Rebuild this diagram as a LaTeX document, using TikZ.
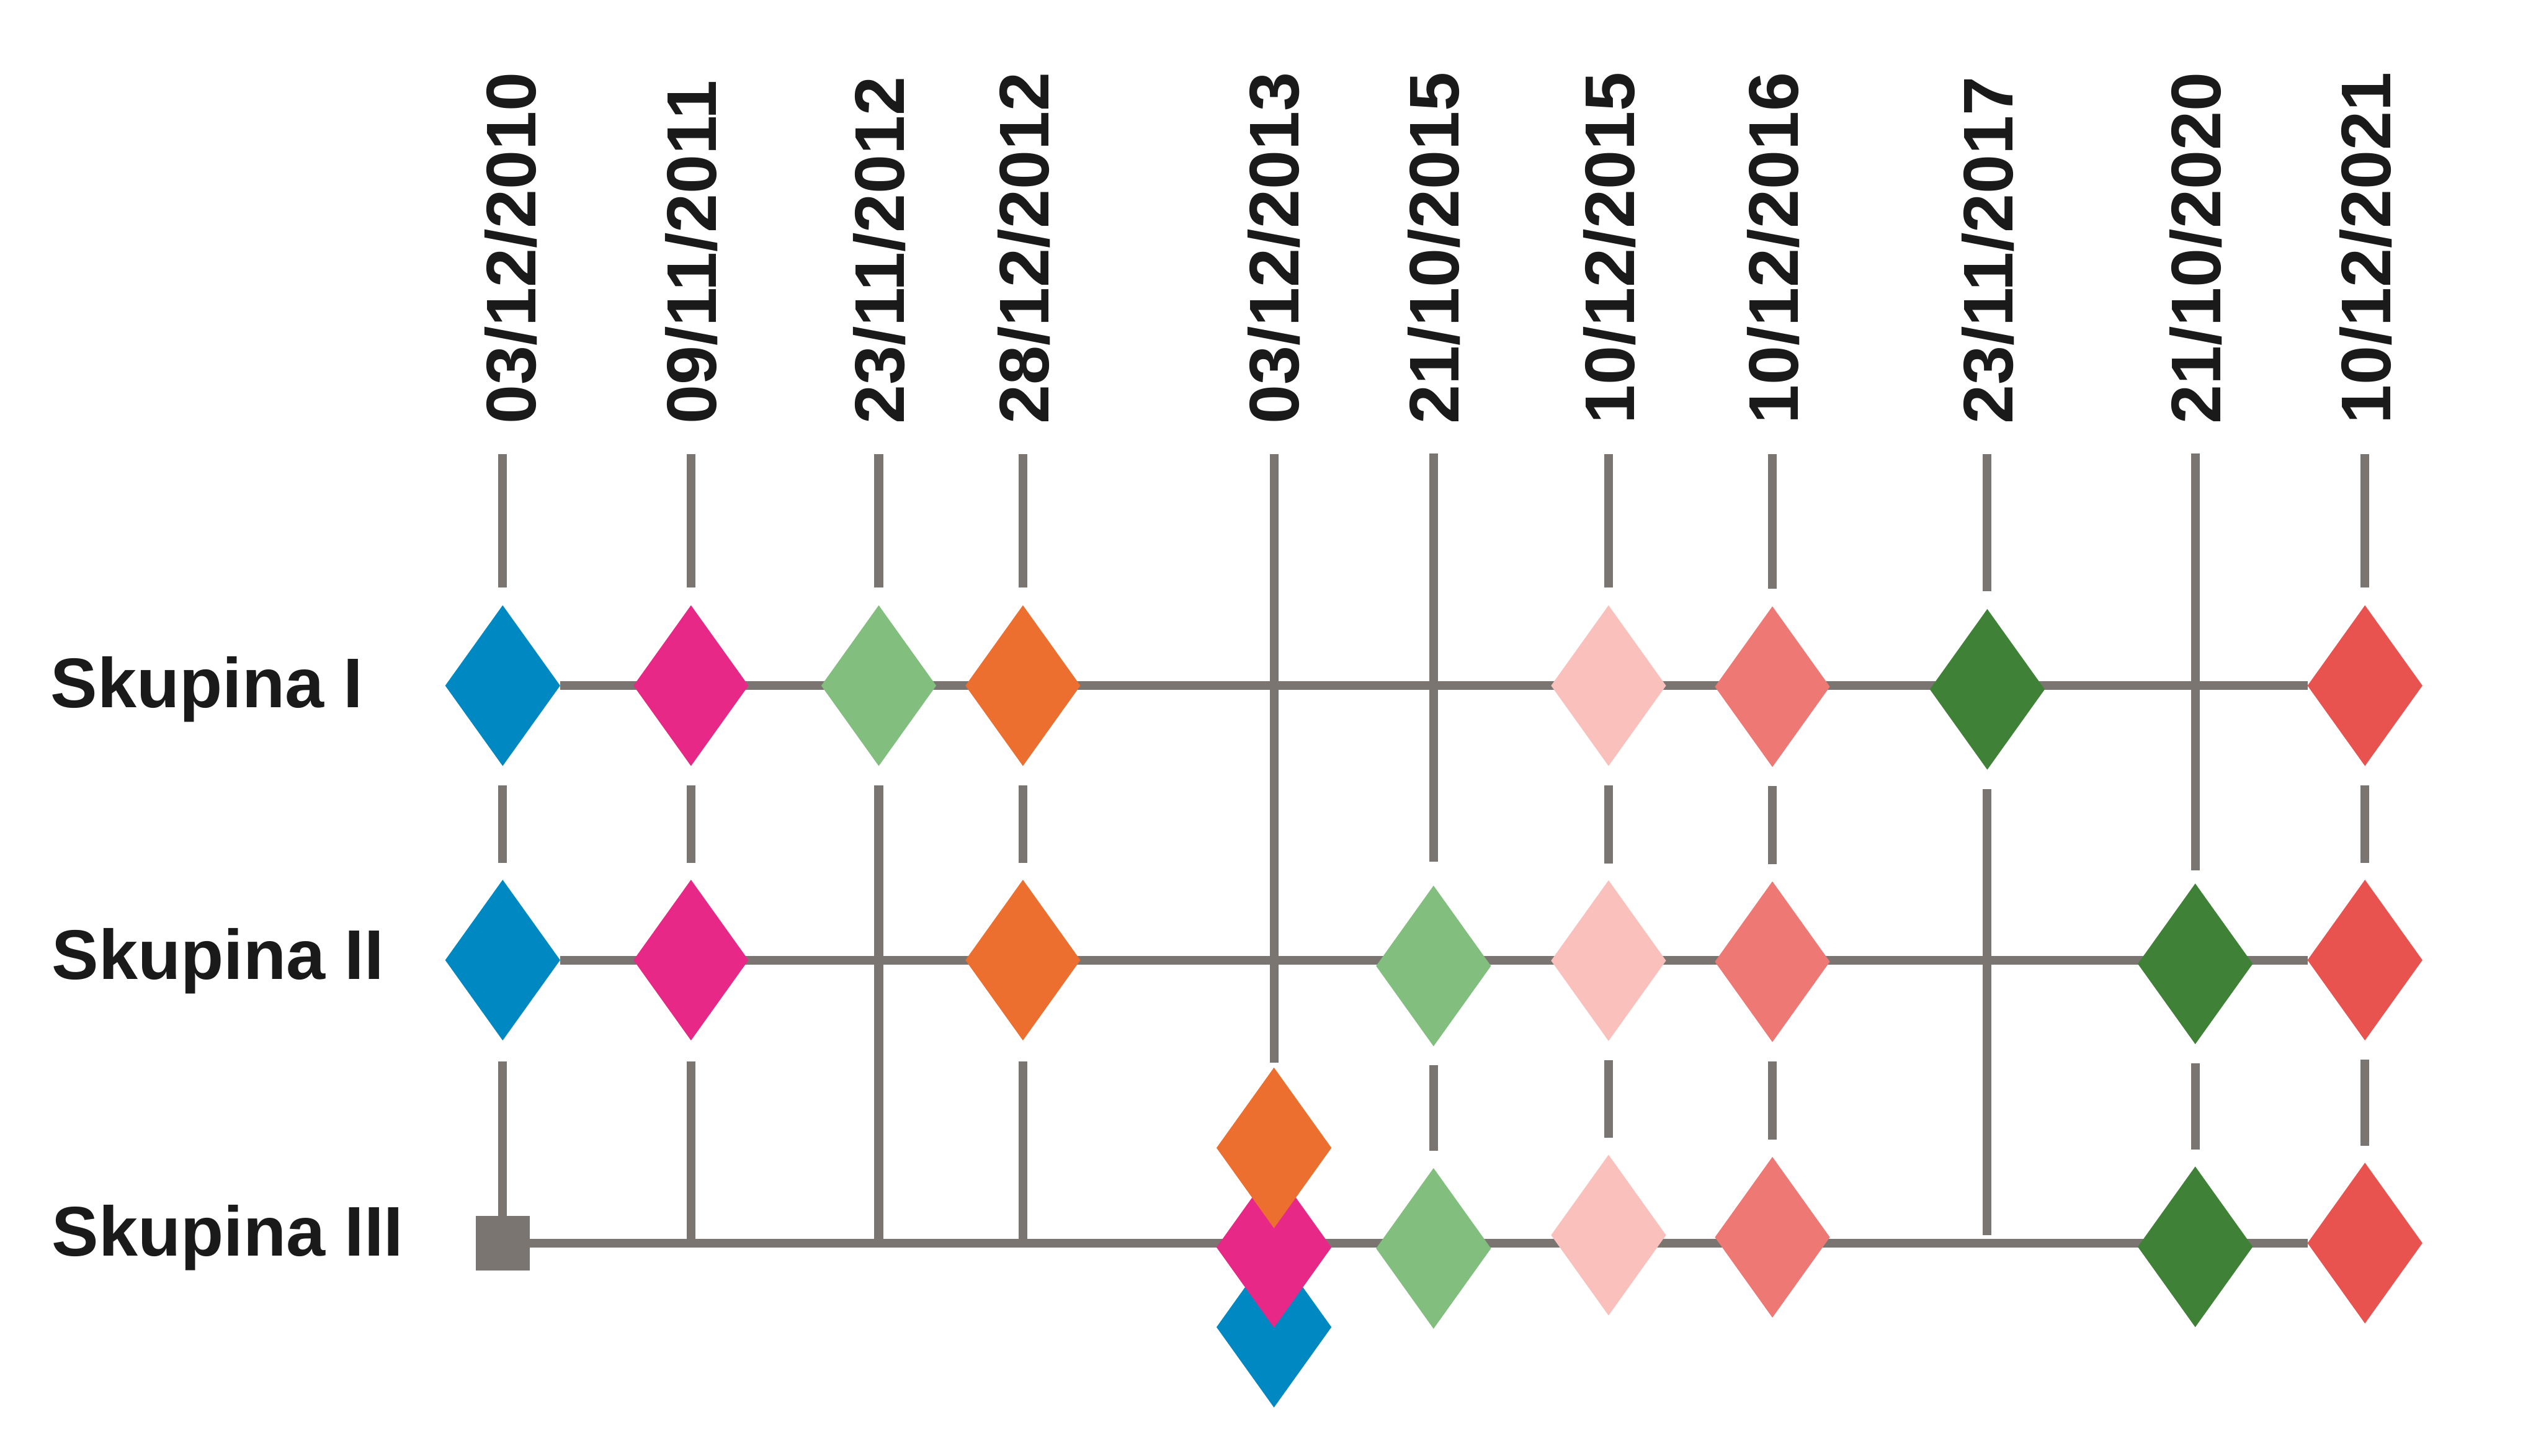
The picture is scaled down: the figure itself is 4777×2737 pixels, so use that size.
\documentclass[tikz,border=0pt]{standalone}
\usepackage{fontspec}
\setmainfont{Liberation Sans}
\usetikzlibrary{shapes.geometric,backgrounds}
\definecolor{linegray}{RGB}{122,117,112}
\definecolor{textblack}{RGB}{26,26,26}
\definecolor{dblue}{RGB}{0,136,194}
\definecolor{dpink}{RGB}{231,40,134}
\definecolor{dlightgreen}{RGB}{130,191,127}
\definecolor{dorange}{RGB}{236,111,48}
\definecolor{dlightpink}{RGB}{249,192,188}
\definecolor{dsalmon}{RGB}{238,120,116}
\definecolor{ddarkgreen}{RGB}{63,130,55}
\definecolor{dred}{RGB}{232,83,79}

\begin{document}
\begin{tikzpicture}[x=0.05mm, y=-0.05mm, font=\bfseries\fontsize{18.8}{22}\selectfont,
    dia/.style={diamond, minimum width=10.8mm, minimum height=15.1mm, inner sep=0pt, outer sep=0pt, fill=#1},
    startbox/.style={rectangle, minimum size=5.1mm, inner sep=0pt, outer sep=0pt, fill=linegray},
    datelbl/.style={rotate=90, anchor=base west, inner sep=0pt, text=textblack},
    grplbl/.style={anchor=base west, inner sep=0pt, text=textblack},
    tickline/.style={draw=linegray, line width=0.82mm},
    gapped/.style={shorten <=1.8mm, shorten >=1.6mm}]
        \useasboundingbox (0,0) rectangle (4777,2737);

        % dates
        \node[datelbl] (l1) at (1007,799) {03/12/2010};
        \node[datelbl] (l2) at (1347,799) {09/11/2011};
        \node[datelbl] (l3) at (1700,799) {23/11/2012};
        \node[datelbl] (l4) at (1971,799) {28/12/2012};
        \node[datelbl] (l5) at (2442,799) {03/12/2013};
        \node[datelbl] (l6) at (2743,799) {21/10/2015};
        \node[datelbl] (l7) at (3072,799) {10/12/2015};
        \node[datelbl] (l8) at (3380,799) {10/12/2016};
        \node[datelbl] (l9) at (3784,799) {23/11/2017};
        \node[datelbl] (l10) at (4175,799) {21/10/2020};
        \node[datelbl] (l11) at (4494,799) {10/12/2021};

        % groups
        \node[grplbl] (g1) at (94,1330) {Skupina I};
        \node[grplbl] (g2) at (96,1841) {Skupina II};
        \node[grplbl] (g3) at (96,2361) {Skupina III};

        % Skupina I
        \node[dia=dblue] (i1) at (945,1289) {};
        \node[dia=dpink] (i2) at (1299,1289) {};
        \node[dia=dlightgreen] (i3) at (1652,1289) {};
        \node[dia=dorange] (i4) at (1923,1289) {};
        \node[dia=dlightpink] (i7) at (3024,1289) {};
        \node[dia=dsalmon] (i8) at (3332,1291) {};
        \node[dia=ddarkgreen] (i9) at (3736,1296) {};
        \node[dia=dred] (i11) at (4446,1289) {};

        % Skupina II
        \node[dia=dblue] (ii1) at (945,1805) {};
        \node[dia=dpink] (ii2) at (1299,1805) {};
        \node[dia=dorange] (ii4) at (1923,1805) {};
        \node[dia=dlightgreen] (ii6) at (2695,1816) {};
        \node[dia=dlightpink] (ii7) at (3024,1806) {};
        \node[dia=dsalmon] (ii8) at (3332,1808) {};
        \node[dia=ddarkgreen] (ii10) at (4127,1812) {};
        \node[dia=dred] (ii11) at (4446,1805) {};

        % Skupina III
        \node[startbox] (sq) at (945,2337) {};
        \node[dia=dblue] (iii5c) at (2395,2495) {};
        \node[dia=dpink] (iii5b) at (2395,2345) {};
        \node[dia=dorange] (iii5a) at (2395,2158) {};
        \node[dia=dlightgreen] (iii6) at (2695,2347) {};
        \node[dia=dlightpink] (iii7) at (3024,2322) {};
        \node[dia=dsalmon] (iii8) at (3332,2326) {};
        \node[dia=ddarkgreen] (iii10) at (4127,2344) {};
        \node[dia=dred] (iii11) at (4446,2337) {};

        \coordinate (t1) at (945,854);
        \coordinate (t2) at (1299,854);
        \coordinate (t3) at (1652,854);
        \coordinate (t4) at (1923,854);
        \coordinate (t5) at (2395,854);
        \coordinate (t6) at (2695,852);
        \coordinate (t7) at (3024,854);
        \coordinate (t8) at (3332,854);
        \coordinate (t9) at (3736,854);
        \coordinate (t10) at (4127,852);
        \coordinate (t11) at (4446,854);
        \coordinate (x2) at (1299,2337);
        \coordinate (x3) at (1652,2337);
        \coordinate (x4) at (1923,2337);
        \coordinate (x9) at (3736,2322);

        \begin{scope}[on background layer]
        \draw[tickline] (i1) -- (i11);
        \draw[tickline] (ii1) -- (ii11);
        \draw[tickline] (sq) -- (iii11);

        \draw[tickline, shorten >=1.65mm] (t1) -- (i1);
        \draw[tickline, gapped] (i1) -- (ii1);
        \draw[tickline, shorten <=1.95mm] (ii1) -- (sq);
        \draw[tickline, shorten >=1.65mm] (t2) -- (i2);
        \draw[tickline, gapped] (i2) -- (ii2);
        \draw[tickline, shorten <=1.95mm] (ii2) -- (x2);
        \draw[tickline, shorten >=1.65mm] (t3) -- (i3);
        \draw[tickline, shorten <=1.8mm] (i3) -- (x3);
        \draw[tickline, shorten >=1.65mm] (t4) -- (i4);
        \draw[tickline, gapped] (i4) -- (ii4);
        \draw[tickline, shorten <=1.95mm] (ii4) -- (x4);
        \draw[tickline, shorten >=0.45mm] (t5) -- (iii5a);
        \draw[tickline, shorten >=2.25mm] (t6) -- (ii6);
        \draw[tickline, gapped] (ii6) -- (iii6);
        \draw[tickline, shorten >=1.65mm] (t7) -- (i7);
        \draw[tickline, gapped] (i7) -- (ii7);
        \draw[tickline, gapped] (ii7) -- (iii7);
        \draw[tickline, shorten >=1.65mm] (t8) -- (i8);
        \draw[tickline, gapped] (i8) -- (ii8);
        \draw[tickline, gapped] (ii8) -- (iii8);
        \draw[tickline, shorten >=1.65mm] (t9) -- (i9);
        \draw[tickline, shorten <=1.85mm] (i9) -- (x9);
        \draw[tickline, shorten >=1.25mm] (t10) -- (ii10);
        \draw[tickline, gapped] (ii10) -- (iii10);
        \draw[tickline, shorten >=1.65mm] (t11) -- (i11);
        \draw[tickline, gapped] (i11) -- (ii11);
        \draw[tickline, gapped] (ii11) -- (iii11);
        \end{scope}
      \end{tikzpicture}
\end{document}
